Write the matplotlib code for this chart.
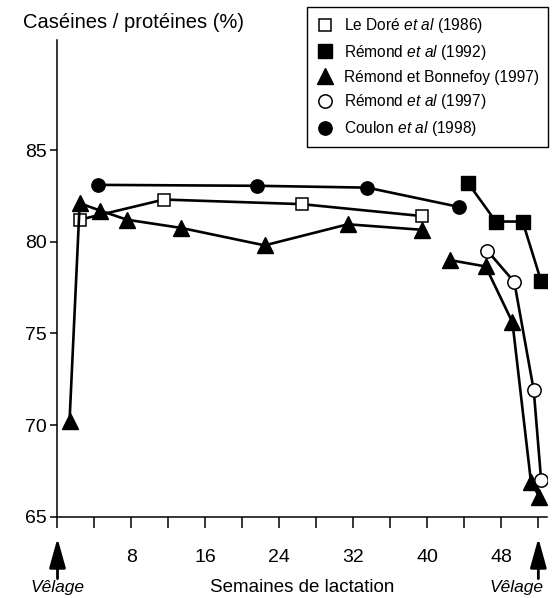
import numpy as np
import matplotlib
matplotlib.use('Agg')
import matplotlib.pyplot as plt

plt.rcParams['font.family'] = ['Liberation Sans', 'DejaVu Sans']
plt.rcParams['mathtext.fontset'] = 'custom'
plt.rcParams['mathtext.rm'] = 'Liberation Sans'
plt.rcParams['mathtext.it'] = 'Liberation Sans:italic'

# Data (weeks of lactation, caseins / proteins %)
weeks_ledore = [2.4, 11.5, 26.4, 39.4]
ledore = [81.2, 82.3, 82.05, 81.4]

weeks_remond92 = [44.4, 47.4, 50.3, 52.3]
remond92 = [83.2, 81.1, 81.1, 77.85]

# nan splits the two separate segments
weeks_bonnefoy = [1.3, 2.4, 4.6, 7.5, 13.4, 22.4, 31.4, 39.4, np.nan, 42.4, 46.3, 49.2, 51.2, 52.1]
bonnefoy = [70.2, 82.1, 81.7, 81.2, 80.75, 79.8, 80.95, 80.65, np.nan, 79.0, 78.65, 75.6, 66.9, 66.1]

weeks_remond97 = [46.5, 49.4, 51.5, 52.3]
remond97 = [79.5, 77.8, 71.9, 67.0]

weeks_coulon = [4.4, 21.6, 33.5, 43.4]
coulon = [83.1, 83.05, 82.95, 81.9]

labels = ['Le Doré $\\mathit{et\\ al}$ (1986)',
          'Rémond $\\mathit{et\\ al}$ (1992)',
          'Rémond et Bonnefoy (1997)',
          'Rémond $\\mathit{et\\ al}$ (1997)',
          'Coulon $\\mathit{et\\ al}$ (1998)']

x_ticks = list(range(0, 53, 4))
x_ticklabels = [str(t) if t % 8 == 0 and 0 < t < 52 else '' for t in x_ticks]
y_ticks = [65, 70, 75, 80, 85]

fig = plt.figure(figsize=(5.55, 5.98), dpi=100)
ax = fig.add_axes([0.1036, 0.136, 0.8814, 0.797])

lw = 1.9
ax.plot(weeks_ledore, ledore, color='black', lw=lw, marker='s', ms=9,
        mfc='white', mec='black', mew=1.1, label=labels[0])
ax.plot(weeks_remond92, remond92, color='black', lw=lw, marker='s', ms=9.5,
        mfc='black', mec='black', label=labels[1])
ax.plot(weeks_bonnefoy, bonnefoy, color='black', lw=lw, marker='^', ms=12,
        mfc='black', mec='black', label=labels[2])
ax.plot(weeks_remond97, remond97, color='black', lw=lw, marker='o', ms=9.6,
        mfc='white', mec='black', mew=1.1, label=labels[3])
ax.plot(weeks_coulon, coulon, color='black', lw=lw, marker='o', ms=9.6,
        mfc='black', mec='black', label=labels[4])

ax.set_xlim(0, 52.9)
ax.set_ylim(65, 91)
for s in ['top', 'right']:
    ax.spines[s].set_visible(False)
for s in ['left', 'bottom']:
    ax.spines[s].set_linewidth(1.1)

ax.set_xticks(x_ticks)
ax.set_xticklabels(x_ticklabels)
ax.set_yticks(y_ticks)
ax.tick_params(axis='x', direction='out', length=8, width=1.1, pad=15, labelsize=14)
ax.tick_params(axis='y', direction='out', length=5, width=1.1, pad=3, labelsize=14)

# y label at the top left
fig.text(23 / 555, 1 - 22 / 598, 'Caséines / protéines (%)', fontsize=14.5,
         ha='left', va='center')

# calving arrows and labels
for xa in [0, 52]:
    ax.annotate('', xy=(xa, -0.045), xytext=(xa, -0.13),
                xycoords=('data', 'axes fraction'), textcoords=('data', 'axes fraction'),
                arrowprops=dict(arrowstyle='-|>,head_length=0.9,head_width=0.25',
                                color='black', lw=2, shrinkA=0, shrinkB=0,
                                mutation_scale=20),
                annotation_clip=False)
ax.text(0, -0.148, 'Vêlage', style='italic', fontsize=12.5, ha='center', va='center',
        transform=ax.get_xaxis_transform())
ax.text(52.6, -0.148, 'Vêlage', style='italic', fontsize=12.5, ha='right', va='center',
        transform=ax.get_xaxis_transform())
ax.text(0.5, -0.148, 'Semaines de lactation', fontsize=13.5, ha='center', va='center',
        transform=ax.transAxes)

leg = ax.legend(loc='upper right', bbox_to_anchor=(548.3 / 555, 1 - 6.7 / 598),
                bbox_transform=fig.transFigure, fontsize=11.2, frameon=True,
                fancybox=False, edgecolor='black', framealpha=1,
                handlelength=1.2, handletextpad=0.6, labelspacing=0.5,
                borderpad=0.6, borderaxespad=0)
leg.get_frame().set_linewidth(1.0)
for h in leg.legend_handles:
    h.set_linestyle('None')

fig.savefig('out.png', dpi=100)
